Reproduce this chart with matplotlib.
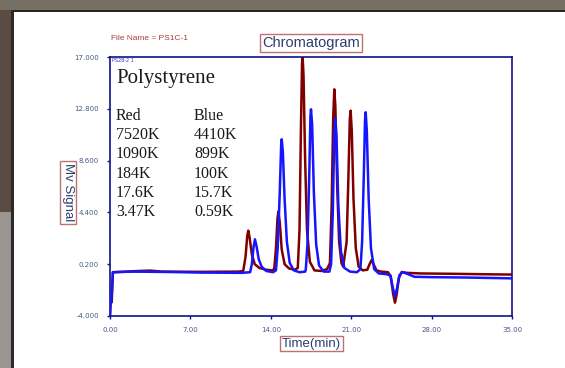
import matplotlib.pyplot as plt
from matplotlib.patches import Rectangle

# traced chromatogram traces (time in min, signal in mV)
red_time = [0.0, 0.05, 0.15, 0.25, 1.0, 2.5, 3.5, 4.5, 8.0, 11.2,
            11.6, 11.8, 11.95, 12.04, 12.15, 12.35, 12.6, 13.0, 13.6, 14.1,
            14.3, 14.45, 14.58, 14.66, 14.78, 14.95, 15.2, 15.6, 16.1,
            16.35, 16.5, 16.62, 16.72, 16.77, 16.85, 16.98, 17.15, 17.4, 17.8, 18.4, 18.9,
            19.15, 19.3, 19.43, 19.53, 19.62, 19.78, 19.95, 20.15,
            20.3, 20.6, 20.75, 20.88, 20.95, 21.05, 21.2, 21.4, 21.65, 22.0, 22.4,
            22.6, 22.78, 22.95, 23.2, 23.6, 24.2,
            24.45, 24.65, 24.81, 24.95, 25.15, 25.4, 25.8, 27.0, 30.0, 33.0, 35.0]
red_signal = [-3.9, -2.9, -2.9, -0.45, -0.42, -0.35, -0.32, -0.4, -0.42, -0.4,
              -0.35, 0.8, 2.5, 2.92, 2.4, 1.0, 0.2, -0.1, -0.25, -0.3,
              -0.2, 1.5, 3.9, 4.46, 3.6, 1.4, 0.2, -0.15, -0.25,
              -0.1, 3.0, 11.0, 16.5, 17.0, 15.5, 9.0, 3.0, 0.4, -0.3, -0.35, -0.2,
              0.3, 5.0, 12.0, 14.38, 13.0, 6.5, 2.0, 0.3,
              0.0, 2.0, 7.0, 12.0, 12.65, 11.0, 5.5, 1.5, 0.0, -0.3, -0.25,
              0.2, 0.54, 0.2, -0.3, -0.4, -0.45,
              -0.8, -2.2, -2.92, -2.3, -0.9, -0.43, -0.5, -0.55, -0.58, -0.62, -0.64]

blue_time = [0.0, 0.05, 0.12, 0.25, 2.0, 5.0, 8.0, 11.5, 12.2,
             12.35, 12.5, 12.62, 12.75, 12.95, 13.2, 13.6, 14.2,
             14.45, 14.6, 14.78, 14.9, 14.95, 15.05, 15.2, 15.4, 15.65, 16.0, 16.5, 17.0,
             17.05, 17.2, 17.35, 17.45, 17.5, 17.6, 17.75, 17.95, 18.2, 18.6, 19.1,
             19.25, 19.4, 19.52, 19.62, 19.72, 19.88, 20.1, 20.4, 20.9, 21.5,
             21.8, 21.95, 22.1, 22.2, 22.26, 22.36, 22.52, 22.72, 23.0, 23.4, 24.0, 24.4,
             24.6, 24.81, 24.98, 25.2, 25.45, 25.8, 26.5, 28.0, 31.0, 34.0, 35.0]
blue_signal = [-3.9, -2.8, -2.8, -0.45, -0.4, -0.43, -0.48, -0.5, -0.45,
               0.2, 1.6, 2.22, 1.7, 0.6, 0.0, -0.35, -0.45,
               -0.3, 1.5, 6.0, 9.8, 10.33, 9.3, 5.5, 2.0, 0.3, -0.3, -0.45, -0.4,
               -0.2, 2.0, 7.5, 12.2, 12.76, 11.5, 6.0, 1.8, 0.1, -0.4, -0.4,
               0.2, 4.5, 10.5, 12.03, 10.5, 5.0, 1.3, -0.1, -0.4, -0.45,
               -0.2, 2.0, 7.5, 11.8, 12.52, 11.0, 5.5, 1.5, -0.2, -0.55, -0.6, -0.7,
               -1.6, -2.43, -1.8, -0.7, -0.45, -0.55, -0.82, -0.85, -0.88, -0.93, -0.95]

y_ticks = [-4.0, 0.2, 4.4, 8.6, 12.8, 17.0]
x_ticks = [0, 7, 14, 21, 28, 35]

mw_red = ['7520K', '1090K', '184K', '17.6K', '3.47K']
mw_blue = ['4410K', '899K', '100K', '15.7K', '0.59K']

navy = '#10108a'
label_col = '#2c3e6e'
box_edge = '#c07070'

fig = plt.figure(figsize=(5.65, 3.68), dpi=100)
fig.patch.set_facecolor('white')

# photo frame around the printout
fig.patches.append(Rectangle((0, 358 / 368), 1, 10 / 368, transform=fig.transFigure,
                             fc='#766f63', ec='none', zorder=0))
fig.patches.append(Rectangle((0, 356 / 368), 1, 2.5 / 368, transform=fig.transFigure,
                             fc='#2a2521', ec='none', zorder=0))
fig.patches.append(Rectangle((0, 156 / 368), 12 / 565, 202 / 368, transform=fig.transFigure,
                             fc='#5b4c43', ec='none', zorder=0))
fig.patches.append(Rectangle((0, 0), 12 / 565, 156 / 368, transform=fig.transFigure,
                             fc='#9a9591', ec='none', zorder=0))
fig.patches.append(Rectangle((11 / 565, 0), 2.5 / 565, 358 / 368, transform=fig.transFigure,
                             fc='#2e2828', ec='none', zorder=0))

ax = fig.add_axes([110 / 565, 1 - 316 / 368, 402 / 565, 259 / 368])
ax.plot(red_time, red_signal, color='#800000', lw=1.8, zorder=2)
ax.plot(blue_time, blue_signal, color='#1515ff', lw=1.8, zorder=3)

ax.set_xlim(0, 35)
ax.set_ylim(-4, 17)
ax.set_xticks(x_ticks)
ax.set_xticklabels([f'{v:.2f}' for v in x_ticks])
ax.set_yticks(y_ticks)
ax.set_yticklabels([f'{v:.3f}' for v in y_ticks])
ax.tick_params(direction='out', length=2, width=1, color=navy,
               labelsize=5, labelcolor='#4a5a86', pad=6)
for s in ax.spines.values():
    s.set_color(navy)
    s.set_linewidth(1.2)

ax.text(0.004, 0.995, 'PS28-2 1', transform=ax.transAxes, fontsize=3.5,
        color='#3030d0', va='top', ha='left')

# legend-like block with molecular weights
fig.text(116 / 565, 1 - 83.3 / 368, 'Polystyrene', family='Liberation Serif',
         fontsize=15, color='#1a1a1a', va='baseline')
rows_y = [120, 139.2, 158.4, 177.6, 196.8, 216]
fig.text(116 / 565, 1 - rows_y[0] / 368, 'Red', family='Liberation Serif',
         fontsize=11.5, color='#1a1a1a', va='baseline')
fig.text(194 / 565, 1 - rows_y[0] / 368, 'Blue', family='Liberation Serif',
         fontsize=11.5, color='#1a1a1a', va='baseline')
for y, r, b in zip(rows_y[1:], mw_red, mw_blue):
    fig.text(116 / 565, 1 - y / 368, r, family='Liberation Serif',
             fontsize=11.5, color='#1a1a1a', va='baseline')
    fig.text(194 / 565, 1 - y / 368, b, family='Liberation Serif',
             fontsize=11.5, color='#1a1a1a', va='baseline')

box = dict(boxstyle='square,pad=0.15', fc='white', ec=box_edge, lw=1)
fig.text(311 / 565, 1 - 43 / 368, 'Chromatogram', family='Liberation Sans',
         fontsize=10.5, color=label_col, ha='center', va='center', bbox=box)
fig.text(311.5 / 565, 1 - 343.5 / 368, 'Time(min)', family='Liberation Sans',
         fontsize=9.5, color=label_col, ha='center', va='center', bbox=box)
fig.text(68 / 565, 1 - 192.5 / 368, 'Mv Signal', family='Liberation Sans',
         fontsize=9.5, color=label_col, ha='center', va='center',
         rotation=270, bbox=box)
fig.text(111 / 565, 1 - 38 / 368, 'File Name = PS1C-1', family='Liberation Sans',
         fontsize=6, color='#b03a3a', ha='left', va='center')

fig.savefig('out.png', dpi=100)
